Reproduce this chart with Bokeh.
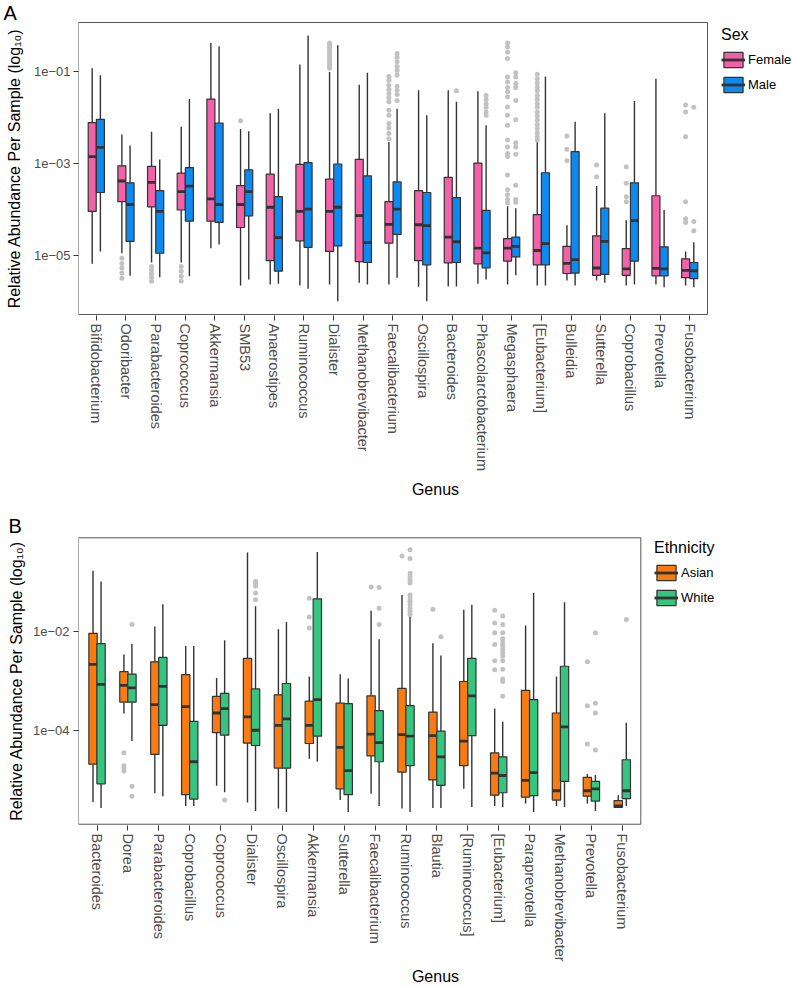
import math
from bokeh.plotting import figure
from bokeh.models import (ColumnDataSource, Range1d, FixedTicker, CustomJSTickFormatter,
                          Legend, LegendItem, Title)
from bokeh.layouts import column
from bokeh.embed import file_html
from bokeh.resources import INLINE

FONT = "Liberation Sans"

# ---------------- Panel A : Sex (values are log10 relative abundance) ----------------
GENUS_A = ["Bifidobacterium", "Odoribacter", "Parabacteroides", "Coprococcus", "Akkermansia",
           "SMB53", "Anaerostipes", "Ruminococcus", "Dialister", "Methanobrevibacter",
           "Faecalibacterium", "Oscillospira", "Bacteroides", "Phascolarctobacterium",
           "Megasphaera", "[Eubacterium]", "Bulleidia", "Sutterella", "Coprobacillus",
           "Prevotella", "Fusobacterium"]

A_FEMALE_LOWER = [-5.19, -4.96, -5.16, -5.16, -4.85, -5.66, -5.64, -5.66, -5.64, -5.60, -5.64,
                  -5.69, -5.68, -5.62, -5.64, -5.66, -5.55, -5.55, -5.66, -5.64, -5.66]
A_FEMALE_Q1 = [-4.05, -3.84, -3.95, -4.02, -4.26, -4.40, -5.12, -4.69, -4.92, -5.14, -4.74,
               -5.12, -5.17, -5.19, -5.13, -5.21, -5.40, -5.44, -5.44, -5.45, -5.49]
A_FEMALE_MEDIAN = [-2.86, -3.39, -3.42, -3.62, -3.78, -3.90, -3.96, -4.05, -4.05, -4.14, -4.33,
                   -4.34, -4.61, -4.85, -4.85, -4.90, -5.18, -5.28, -5.30, -5.29, -5.33]
A_FEMALE_Q3 = [-2.12, -3.06, -3.07, -3.22, -1.61, -3.49, -3.24, -3.03, -3.35, -2.92, -3.84,
               -3.60, -3.31, -3.00, -4.64, -4.12, -4.81, -4.58, -4.86, -3.71, -5.08]
A_FEMALE_UPPER = [-0.94, -2.38, -2.32, -2.21, -0.39, -2.26, -1.92, -0.86, -1.02, -1.30, -2.54,
                  -1.42, -1.42, -1.44, -3.94, -2.54, -4.35, -3.50, -4.24, -1.17, -4.92]

A_MALE_LOWER = [-4.92, -5.45, -5.48, -5.46, -4.77, -5.53, -5.62, -5.73, -6.00, -5.64, -5.49,
                -6.00, -5.68, -5.53, -5.44, -5.66, -5.66, -5.60, -5.64, -5.70, -5.70]
A_MALE_Q1 = [-3.64, -4.70, -4.96, -4.26, -4.29, -4.15, -5.35, -4.83, -4.80, -5.16, -4.55,
             -5.21, -5.16, -5.28, -5.04, -5.21, -5.39, -5.42, -5.13, -5.45, -5.51]
A_MALE_MEDIAN = [-2.66, -3.90, -4.05, -3.50, -3.90, -3.62, -4.62, -4.00, -3.96, -4.73, -4.00,
                 -4.36, -4.71, -4.95, -4.81, -4.75, -5.10, -4.70, -4.25, -5.30, -5.34]
A_MALE_Q3 = [-2.05, -3.43, -3.60, -3.10, -2.13, -3.15, -3.73, -2.99, -3.02, -3.28, -3.41,
             -3.64, -3.75, -4.03, -4.61, -3.21, -2.75, -3.98, -3.43, -4.82, -5.16]
A_MALE_UPPER = [-1.09, -2.62, -2.92, -1.61, -0.46, -2.31, -1.82, -0.23, -0.44, -1.04, -1.82,
                -1.96, -1.67, -2.18, -3.98, -1.12, -2.10, -1.92, -1.65, -4.02, -4.72]

A_OUT_FEMALE_GENUS = ["Odoribacter", "Parabacteroides", "Coprococcus", "SMB53", "Dialister",
                      "Faecalibacterium", "Megasphaera", "[Eubacterium]", "Bulleidia",
                      "Sutterella", "Coprobacillus", "Fusobacterium"]
A_OUT_FEMALE_LOG = [
    [-5.07, -5.18, -5.28, -5.39, -5.50],
    [-5.25, -5.32, -5.40, -5.48, -5.57],
    [-5.25, -5.35, -5.46, -5.56],
    [-2.08],
    [-0.39, -0.44, -0.49, -0.54, -0.59, -0.64, -0.69, -0.74, -0.79, -0.84, -0.89, -0.94],
    [-1.12, -1.20, -1.31, -1.40, -1.49, -1.58, -1.67, -1.85, -1.96, -2.14, -2.24, -2.36, -2.47],
    [-0.39, -0.48, -0.59, -0.73, -1.13, -1.24, -1.36, -1.45, -1.56, -1.78, -1.96, -2.18,
     -2.50, -2.65, -2.79, -2.86, -3.26, -3.58, -3.69, -3.79, -3.87],
    [-1.07, -1.17, -1.26, -1.35, -1.43, -1.53, -1.62, -1.71, -1.79, -1.89, -1.98, -2.07,
     -2.16, -2.25, -2.34, -2.43, -2.50],
    [-2.41, -2.70, -2.95],
    [-3.04, -3.30],
    [-3.08, -3.44, -3.73, -3.84],
    [-1.74, -1.89, -2.43, -3.84, -4.21, -4.29],
]
A_OUT_MALE_GENUS = ["Faecalibacterium", "Bacteroides", "Phascolarctobacterium",
                    "Megasphaera", "Fusobacterium"]
A_OUT_MALE_LOG = [
    [-0.62, -0.70, -0.80, -0.90, -0.99, -1.09, -1.33, -1.42, -1.51, -1.64],
    [-1.43],
    [-1.53, -1.62, -1.71, -1.79, -1.89, -1.96],
    [-1.04, -1.13, -1.27, -1.36, -1.64, -2.06, -2.56, -2.65, -2.81, -3.48, -3.79, -3.85],
    [-1.79, -4.27, -4.47],
]

# ---------------- Panel B : Ethnicity (values are log10 relative abundance) ----------------
GENUS_B = ["Bacteroides", "Dorea", "Parabacteroides", "Coprobacillus", "Coprococcus",
           "Dialister", "Oscillospira", "Akkermansia", "Sutterella", "Faecalibacterium",
           "Ruminococcus", "Blautia", "[Ruminococcus]", "[Eubacterium]", "Paraprevotella",
           "Methanobrevibacter", "Prevotella", "Fusobacterium"]

B_ASIAN_LOWER = [-5.46, -3.66, -5.28, -5.54, -5.13, -5.47, -5.59, -4.58, -5.42, -5.29, -5.59,
                 -5.58, -5.19, -5.54, -5.49, -5.54, -5.49, -5.57]
B_ASIAN_Q1 = [-4.69, -3.43, -4.49, -5.31, -4.05, -4.26, -4.77, -4.27, -5.19, -4.52, -4.85,
              -5.01, -4.72, -5.32, -5.36, -5.42, -5.34, -5.57]
B_ASIAN_MEDIAN = [-2.66, -3.09, -3.48, -3.52, -3.65, -3.73, -3.90, -3.90, -4.35, -4.08, -4.09,
                  -4.11, -4.22, -4.87, -5.02, -5.23, -5.23, -5.54]
B_ASIAN_Q3 = [-2.03, -2.81, -2.61, -2.87, -3.31, -2.54, -3.28, -3.41, -3.45, -3.30, -3.15,
              -3.63, -3.01, -4.46, -3.19, -3.65, -4.96, -5.43]
B_ASIAN_UPPER = [-0.76, -2.46, -1.89, -2.29, -2.94, -0.39, -1.95, -2.91, -2.86, -1.57, -1.25,
                 -2.23, -1.55, -3.56, -1.87, -2.91, -4.89, -5.32]

B_WHITE_LOWER = [-5.58, -4.22, -5.34, -5.54, -5.26, -5.64, -5.66, -4.64, -5.66, -5.54, -5.66,
                 -5.58, -5.56, -5.56, -5.66, -5.56, -5.64, -5.54]
B_WHITE_Q1 = [-5.09, -3.43, -3.90, -5.40, -4.10, -4.31, -4.77, -4.12, -5.31, -4.64, -4.72,
              -5.12, -4.11, -5.27, -5.33, -5.04, -5.44, -5.39]
B_WHITE_MEDIAN = [-3.07, -3.14, -3.11, -4.64, -3.56, -4.00, -3.77, -3.38, -4.82, -4.25, -4.12,
                  -4.54, -3.30, -4.92, -4.86, -3.93, -5.19, -5.23]
B_WHITE_Q3 = [-2.24, -2.86, -2.52, -3.82, -3.25, -3.16, -3.05, -1.33, -3.46, -3.60, -3.50,
              -4.02, -2.54, -4.54, -3.38, -2.70, -5.04, -4.60]
B_WHITE_UPPER = [-0.98, -2.24, -1.44, -2.29, -2.17, -1.48, -1.80, -0.38, -2.95, -2.15, -1.67,
                 -2.48, -1.45, -3.83, -1.21, -1.40, -4.91, -3.85]

B_OUT_ASIAN_GENUS = ["Dorea", "Akkermansia", "Faecalibacterium", "Ruminococcus", "Blautia",
                     "[Eubacterium]", "Prevotella"]
B_OUT_ASIAN_LOG = [
    [-4.46, -4.72, -4.77, -4.83],
    [-1.32, -1.70, -1.92],
    [-1.09],
    [-0.46],
    [-1.54],
    [-1.56, -1.82, -2.02, -2.26, -2.59, -2.77],
    [-2.61, -3.50, -4.28],
]
B_OUT_WHITE_GENUS = ["Dorea", "Coprococcus", "Dialister", "Faecalibacterium", "Ruminococcus",
                     "Blautia", "[Eubacterium]", "Prevotella", "Fusobacterium"]
B_OUT_WHITE_LOG = [
    [-1.85, -5.14, -5.34],
    [-5.42],
    [-0.97, -1.01, -1.07, -1.21, -1.35],
    [-1.10, -1.52, -1.85],
    [-0.33, -0.51, -0.81, -0.88, -0.95, -1.01, -1.25, -1.32, -1.38, -1.45, -1.52, -1.58, -1.65],
    [-2.10],
    [-1.68, -1.85, -2.02, -2.14, -2.22, -2.29, -2.36, -2.42, -2.49, -2.59, -2.76, -2.96,
     -3.01, -3.31],
    [-2.02, -3.45, -3.65, -4.40],
    [-1.75],
]

A_TICKS = [-5, -3, -1]
B_TICKS = [-4, -2]

PINK, BLUE = "#F361A8", "#0D8AF0"
ORANGE, GREEN = "#FA7B12", "#36C47F"
DARK = "#333333"
BORDER = "#555555"
OUT_GREY = "#C2C2C2"

TICK_CODE = """
const e = Math.round(tick);
const a = Math.abs(e);
return "1e" + (e < 0 ? "\u2212" : "+") + (a < 10 ? "0" + a : "" + a);
"""


def build_panel(genera, groups, x_end, y_view, y_panel, y_ticks, height, borders,
                ylab_standoff, ytick_standoff, xlab_standoff, legend_title, legend_loc,
                letter, letter_offset, letter_standoff):
    n = len(genera)
    left, right, top, bottom = borders
    p = figure(width=792, height=height, x_range=Range1d(0.4, x_end),
               y_range=Range1d(*y_view), output_backend="svg", toolbar_location=None,
               title=None, min_border_left=left, min_border_right=right,
               min_border_top=top, min_border_bottom=bottom)
    p.xgrid.visible = False
    p.ygrid.visible = False
    p.outline_line_color = None
    p.background_fill_color = "white"
    p.border_fill_color = "white"

    # panel border (only around the data area, legend lives to its right)
    p.quad(left=[0.4], right=[n + 0.6], bottom=[y_panel[0]], top=[y_panel[1]],
           fill_color=None, line_color=BORDER, line_width=1)

    pos = {g: i + 1 for i, g in enumerate(genera)}
    width = 0.27
    items = []
    for (label, color, offset, lo, q1, med, q3, up, out_g, out_v) in groups:
        xs = [i + 1 + offset for i in range(n)]
        src = ColumnDataSource(dict(x=xs, lo=lo, q1=q1, med=med, q3=q3, up=up,
                                    l=[x - width / 2 for x in xs],
                                    r=[x + width / 2 for x in xs]))
        p.segment(x0="x", y0="q3", x1="x", y1="up", source=src, line_color=DARK, line_width=1.4)
        p.segment(x0="x", y0="lo", x1="x", y1="q1", source=src, line_color=DARK, line_width=1.4)
        box = p.vbar(x="x", width=width, bottom="q1", top="q3", source=src,
                     fill_color=color, line_color=DARK, line_width=1.2)
        med_r = p.segment(x0="l", y0="med", x1="r", y1="med", source=src,
                          line_color=DARK, line_width=2.8)
        ox, oy = [], []
        for g, vals in zip(out_g, out_v):
            for v in vals:
                ox.append(pos[g] + offset)
                oy.append(v)
        p.scatter(x=ox, y=oy, size=5, fill_color=OUT_GREY, line_color=None)
        items.append(LegendItem(label=label, renderers=[box, med_r]))

    # x axis
    xa = p.xaxis[0]
    xa.ticker = FixedTicker(ticks=list(range(1, n + 1)))
    xa.major_label_overrides = {i + 1: g for i, g in enumerate(genera)}
    xa.major_label_orientation = -math.pi / 2
    xa.axis_line_color = None
    xa.major_tick_out = 5
    xa.major_tick_in = 0
    xa.minor_tick_line_color = None
    xa.major_tick_line_color = DARK
    xa.major_label_text_font = FONT
    xa.major_label_text_font_size = "14.5px"
    xa.major_label_text_color = "#4D4D4D"
    xa.major_label_standoff = 3
    xa.axis_label = "Genus"
    xa.axis_label_text_font = FONT
    xa.axis_label_text_font_size = "16px"
    xa.axis_label_text_font_style = "normal"
    xa.axis_label_text_color = "black"
    xa.axis_label_standoff = xlab_standoff

    # y axis
    ya = p.yaxis[0]
    ya.ticker = FixedTicker(ticks=y_ticks)
    ya.formatter = CustomJSTickFormatter(code=TICK_CODE)
    ya.axis_line_color = None
    ya.major_tick_out = 5
    ya.major_tick_in = 0
    ya.minor_tick_line_color = None
    ya.major_tick_line_color = DARK
    ya.major_label_text_font = FONT
    ya.major_label_text_font_size = "13px"
    ya.major_label_text_color = "#4D4D4D"
    ya.major_label_standoff = ytick_standoff
    ya.axis_label = "Relative Abundance Per Sample (log\u2081\u2080)"
    ya.axis_label_text_font = FONT
    ya.axis_label_text_font_size = "16px"
    ya.axis_label_text_font_style = "normal"
    ya.axis_label_text_color = "black"
    ya.axis_label_standoff = ylab_standoff

    legend = Legend(items=items, title=legend_title, location=legend_loc)
    legend.title_text_font = FONT
    legend.title_text_font_size = "16px"
    legend.title_text_font_style = "normal"
    legend.title_text_color = "black"
    legend.title_standoff = 6
    legend.label_text_font = FONT
    legend.label_text_font_size = "13px"
    legend.label_text_color = "black"
    legend.glyph_width = 24
    legend.glyph_height = 19
    legend.label_height = 19
    legend.label_standoff = 3
    legend.spacing = 6
    legend.padding = 0
    legend.margin = 0
    legend.border_line_color = None
    legend.background_fill_alpha = 0
    p.add_layout(legend)

    p.add_layout(Title(text=letter, align="left", offset=letter_offset,
                       standoff=letter_standoff, text_font=FONT, text_font_size="20px",
                       text_font_style="normal", text_color="black"), "above")
    return p


pA = build_panel(
    GENUS_A,
    [("Female", PINK, -0.138, A_FEMALE_LOWER, A_FEMALE_Q1, A_FEMALE_MEDIAN, A_FEMALE_Q3,
      A_FEMALE_UPPER, A_OUT_FEMALE_GENUS, A_OUT_FEMALE_LOG),
     ("Male", BLUE, 0.138, A_MALE_LOWER, A_MALE_Q1, A_MALE_MEDIAN, A_MALE_Q3,
      A_MALE_UPPER, A_OUT_MALE_GENUS, A_OUT_MALE_LOG)],
    24.465, (-6.312, 0.0756), (-6.29, 0.054), A_TICKS, 500, (78, 0, 21, 184), 8, 3, 7,
    "Sex", (643, 221), "A", -75, -4)

pB = build_panel(
    GENUS_B,
    [("Asian", ORANGE, -0.13, B_ASIAN_LOWER, B_ASIAN_Q1, B_ASIAN_MEDIAN, B_ASIAN_Q3,
      B_ASIAN_UPPER, B_OUT_ASIAN_GENUS, B_OUT_ASIAN_LOG),
     ("White", GREEN, 0.13, B_WHITE_LOWER, B_WHITE_Q1, B_WHITE_MEDIAN, B_WHITE_Q3,
      B_WHITE_UPPER, B_OUT_WHITE_GENUS, B_OUT_WHITE_LOG)],
    23.509, (-5.936, -0.063), (-5.91, -0.089), B_TICKS, 487, (78, 0, 36, 159), 5, 4, 3,
    "Ethnicity", (576, 218), "B", -70, 0)

open("out.html", "w").write(file_html(column(pA, pB), INLINE))
